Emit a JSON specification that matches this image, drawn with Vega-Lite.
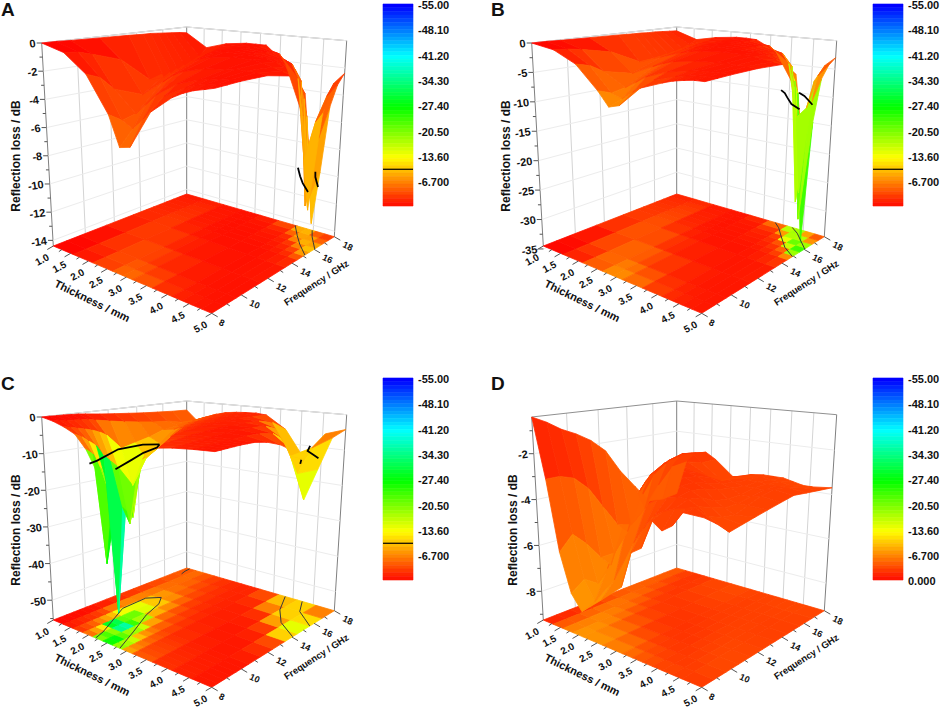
{"$schema":"https://vega.github.io/schema/vega-lite/v6.json","padding":0,"background":"white","config":{"view":{"stroke":null},"text":{"font":"Liberation Sans","fontWeight":"bold","fontSize":11,"color":"#111"}},
"data":{"values":[
{"p":"A","letter":1},{"p":"B","letter":1},{"p":"C","letter":1},{"p":"D","letter":1},{"p":"D","zero":"0.000"},{"p":"A","b":-10},{"p":"B","b":-10},{"p":"C","b":-10},
{"p":"A","zv":0},{"p":"A","zv":-2},{"p":"A","zv":-4},{"p":"A","zv":-6},{"p":"A","zv":-8},{"p":"A","zv":-10},{"p":"A","zv":-12},{"p":"A","zv":-14},{"p":"A","zv":-1,"m":1},{"p":"A","zv":-3,"m":1},{"p":"A","zv":-5,"m":1},{"p":"A","zv":-7,"m":1},{"p":"A","zv":-9,"m":1},{"p":"A","zv":-11,"m":1},{"p":"A","zv":-13,"m":1},
{"p":"B","zv":0},{"p":"B","zv":-5},{"p":"B","zv":-10},{"p":"B","zv":-15},{"p":"B","zv":-20},{"p":"B","zv":-25},{"p":"B","zv":-30},{"p":"B","zv":-35},{"p":"B","zv":-2.5,"m":1},{"p":"B","zv":-7.5,"m":1},{"p":"B","zv":-12.5,"m":1},{"p":"B","zv":-17.5,"m":1},{"p":"B","zv":-22.5,"m":1},{"p":"B","zv":-27.5,"m":1},{"p":"B","zv":-32.5,"m":1},
{"p":"C","zv":0},{"p":"C","zv":-10},{"p":"C","zv":-20},{"p":"C","zv":-30},{"p":"C","zv":-40},{"p":"C","zv":-50},{"p":"C","zv":-5,"m":1},{"p":"C","zv":-15,"m":1},{"p":"C","zv":-25,"m":1},{"p":"C","zv":-35,"m":1},{"p":"C","zv":-45,"m":1},{"p":"C","zv":-55,"m":1},
{"p":"D","zv":-2},{"p":"D","zv":-4},{"p":"D","zv":-6},{"p":"D","zv":-8},{"p":"D","zv":-1,"m":1},{"p":"D","zv":-3,"m":1},{"p":"D","zv":-5,"m":1},{"p":"D","zv":-7,"m":1},{"p":"D","zv":-9,"m":1},
{"p":"A","c":"A1","t":3.94,"f":18},{"p":"A","c":"A1","t":4.1,"f":17.6},{"p":"A","c":"A1","t":4.3,"f":17.1},{"p":"A","c":"A1","t":4.6,"f":16.4},{"p":"A","c":"A1","t":5,"f":15.6},{"p":"A","c":"A2","t":4.4,"f":18},{"p":"A","c":"A2","t":4.6,"f":17.4},{"p":"A","c":"A2","t":4.8,"f":16.9},{"p":"A","c":"A2","t":5,"f":16.4},
{"p":"B","c":"B1","t":3.67,"f":18},{"p":"B","c":"B1","t":3.9,"f":17.6},{"p":"B","c":"B1","t":4.2,"f":16.9},{"p":"B","c":"B1","t":4.6,"f":16},{"p":"B","c":"B1","t":5,"f":15.4},{"p":"B","c":"B2","t":4.13,"f":18},{"p":"B","c":"B2","t":4.4,"f":17.6},{"p":"B","c":"B2","t":4.7,"f":17},{"p":"B","c":"B2","t":5,"f":16.4},
{"p":"C","c":"C1","t":2.07,"f":8},{"p":"C","c":"C1","t":1.99,"f":8.8},{"p":"C","c":"C1","t":1.52,"f":11.7},{"p":"C","c":"C1","t":1.5,"f":13.5},{"p":"C","c":"C1","t":1.7,"f":14.1},{"p":"C","c":"C2","t":2.68,"f":8},{"p":"C","c":"C2","t":2.38,"f":10},{"p":"C","c":"C2","t":2.06,"f":11.9},{"p":"C","c":"C2","t":1.88,"f":13.4},{"p":"C","c":"C2","t":1.7,"f":14.1},
{"p":"C","c":"C3","t":1.15,"f":17.2,"sf":0},{"p":"C","c":"C3","t":1.1,"f":17.6,"sf":0},{"p":"C","c":"C3","t":1.08,"f":18,"sf":0},{"p":"C","c":"C4","t":3.67,"f":18,"sf":0},{"p":"C","c":"C4","t":4,"f":16.6,"sf":0},{"p":"C","c":"C4","t":4.4,"f":15.5,"sf":0},{"p":"C","c":"C4","t":5,"f":14.6,"sf":0},{"p":"C","c":"C5","t":5,"f":14.6,"fl":0},{"p":"C","c":"C5","t":4.8,"f":15.3,"fl":0},{"p":"C","c":"C6","t":4.13,"f":18},{"p":"C","c":"C6","t":4.4,"f":17},{"p":"C","c":"C6","t":4.7,"f":16.5},{"p":"C","c":"C6","t":5,"f":16},
{"p":"A","t":1,"f":8,"z":0},{"p":"A","t":1.5,"f":8,"z":-0.4},{"p":"A","t":2,"f":8,"z":-1.6},{"p":"A","t":2.5,"f":8,"z":-4},{"p":"A","t":2.75,"f":8,"z":-6},{"p":"A","t":3,"f":8,"z":-5.8},{"p":"A","t":3.5,"f":8,"z":-3.2},{"p":"A","t":4,"f":8,"z":-2},{"p":"A","t":4.25,"f":8,"z":-1.6},{"p":"A","t":4.5,"f":8,"z":-1.3},{"p":"A","t":4.75,"f":8,"z":-1.1},{"p":"A","t":5,"f":8,"z":-0.9},
{"p":"A","t":1,"f":9,"z":0},{"p":"A","t":1.5,"f":9,"z":-0.5},{"p":"A","t":2,"f":9,"z":-2},{"p":"A","t":2.5,"f":9,"z":-4.6},{"p":"A","t":2.75,"f":9,"z":-5},{"p":"A","t":3,"f":9,"z":-4.2},{"p":"A","t":3.5,"f":9,"z":-2.4},{"p":"A","t":4,"f":9,"z":-1.6},{"p":"A","t":4.25,"f":9,"z":-1.3},{"p":"A","t":4.5,"f":9,"z":-1.1},{"p":"A","t":4.75,"f":9,"z":-1},{"p":"A","t":5,"f":9,"z":-0.9},
{"p":"A","t":1,"f":10,"z":-0.05},{"p":"A","t":1.5,"f":10,"z":-0.8},{"p":"A","t":2,"f":10,"z":-3},{"p":"A","t":2.5,"f":10,"z":-4.4},{"p":"A","t":2.75,"f":10,"z":-3.6},{"p":"A","t":3,"f":10,"z":-2.8},{"p":"A","t":3.5,"f":10,"z":-1.8},{"p":"A","t":4,"f":10,"z":-1.3},{"p":"A","t":4.25,"f":10,"z":-1.1},{"p":"A","t":4.5,"f":10,"z":-1},{"p":"A","t":4.75,"f":10,"z":-0.9},{"p":"A","t":5,"f":10,"z":-0.9},
{"p":"A","t":1,"f":12,"z":-0.1},{"p":"A","t":1.5,"f":12,"z":-1.5},{"p":"A","t":2,"f":12,"z":-3.8},{"p":"A","t":2.5,"f":12,"z":-2.6},{"p":"A","t":2.75,"f":12,"z":-2},{"p":"A","t":3,"f":12,"z":-1.6},{"p":"A","t":3.5,"f":12,"z":-1.2},{"p":"A","t":4,"f":12,"z":-1},{"p":"A","t":4.25,"f":12,"z":-0.9},{"p":"A","t":4.5,"f":12,"z":-0.9},{"p":"A","t":4.75,"f":12,"z":-0.9},{"p":"A","t":5,"f":12,"z":-1},
{"p":"A","t":1,"f":14,"z":-0.15},{"p":"A","t":1.5,"f":14,"z":-3.4},{"p":"A","t":2,"f":14,"z":-2.4},{"p":"A","t":2.5,"f":14,"z":-1.5},{"p":"A","t":2.75,"f":14,"z":-1.2},{"p":"A","t":3,"f":14,"z":-1},{"p":"A","t":3.5,"f":14,"z":-0.8},{"p":"A","t":4,"f":14,"z":-0.8},{"p":"A","t":4.25,"f":14,"z":-0.9},{"p":"A","t":4.5,"f":14,"z":-1.1},{"p":"A","t":4.75,"f":14,"z":-1.3},{"p":"A","t":5,"f":14,"z":-1.5},
{"p":"A","t":1,"f":15,"z":-0.2},{"p":"A","t":1.5,"f":15,"z":-3.4},{"p":"A","t":2,"f":15,"z":-1.9},{"p":"A","t":2.5,"f":15,"z":-1.2},{"p":"A","t":2.75,"f":15,"z":-1},{"p":"A","t":3,"f":15,"z":-0.8},{"p":"A","t":3.5,"f":15,"z":-0.8},{"p":"A","t":4,"f":15,"z":-0.9},{"p":"A","t":4.25,"f":15,"z":-1.1},{"p":"A","t":4.5,"f":15,"z":-1.4},{"p":"A","t":4.75,"f":15,"z":-1.9},{"p":"A","t":5,"f":15,"z":-3},
{"p":"A","t":1,"f":15.5,"z":-0.2},{"p":"A","t":1.5,"f":15.5,"z":-3.2},{"p":"A","t":2,"f":15.5,"z":-1.7},{"p":"A","t":2.5,"f":15.5,"z":-1.1},{"p":"A","t":2.75,"f":15.5,"z":-0.9},{"p":"A","t":3,"f":15.5,"z":-0.8},{"p":"A","t":3.5,"f":15.5,"z":-0.9},{"p":"A","t":4,"f":15.5,"z":-1},{"p":"A","t":4.25,"f":15.5,"z":-1.3},{"p":"A","t":4.5,"f":15.5,"z":-1.8},{"p":"A","t":4.75,"f":15.5,"z":-3},{"p":"A","t":5,"f":15.5,"z":-7},
{"p":"A","t":1,"f":16,"z":-0.25},{"p":"A","t":1.5,"f":16,"z":-3},{"p":"A","t":2,"f":16,"z":-1.6},{"p":"A","t":2.5,"f":16,"z":-1},{"p":"A","t":2.75,"f":16,"z":-0.9},{"p":"A","t":3,"f":16,"z":-0.8},{"p":"A","t":3.5,"f":16,"z":-0.9},{"p":"A","t":4,"f":16,"z":-1.2},{"p":"A","t":4.25,"f":16,"z":-1.6},{"p":"A","t":4.5,"f":16,"z":-2.5},{"p":"A","t":4.75,"f":16,"z":-5},{"p":"A","t":5,"f":16,"z":-12.4},
{"p":"A","t":1,"f":16.5,"z":-0.3},{"p":"A","t":1.5,"f":16.5,"z":-2.8},{"p":"A","t":2,"f":16.5,"z":-1.5},{"p":"A","t":2.5,"f":16.5,"z":-1},{"p":"A","t":2.75,"f":16.5,"z":-0.9},{"p":"A","t":3,"f":16.5,"z":-0.8},{"p":"A","t":3.5,"f":16.5,"z":-1},{"p":"A","t":4,"f":16.5,"z":-1.4},{"p":"A","t":4.25,"f":16.5,"z":-2},{"p":"A","t":4.5,"f":16.5,"z":-4},{"p":"A","t":4.75,"f":16.5,"z":-11},{"p":"A","t":5,"f":16.5,"z":-9},
{"p":"A","t":1,"f":17,"z":-0.35},{"p":"A","t":1.5,"f":17,"z":-2.5},{"p":"A","t":2,"f":17,"z":-1.4},{"p":"A","t":2.5,"f":17,"z":-1},{"p":"A","t":2.75,"f":17,"z":-0.9},{"p":"A","t":3,"f":17,"z":-0.8},{"p":"A","t":3.5,"f":17,"z":-1.1},{"p":"A","t":4,"f":17,"z":-1.8},{"p":"A","t":4.25,"f":17,"z":-3},{"p":"A","t":4.5,"f":17,"z":-12},{"p":"A","t":4.75,"f":17,"z":-7},{"p":"A","t":5,"f":17,"z":-4.5},
{"p":"A","t":1,"f":17.5,"z":-0.4},{"p":"A","t":1.5,"f":17.5,"z":-2.2},{"p":"A","t":2,"f":17.5,"z":-1.3},{"p":"A","t":2.5,"f":17.5,"z":-0.95},{"p":"A","t":2.75,"f":17.5,"z":-0.9},{"p":"A","t":3,"f":17.5,"z":-0.9},{"p":"A","t":3.5,"f":17.5,"z":-1.3},{"p":"A","t":4,"f":17.5,"z":-3},{"p":"A","t":4.25,"f":17.5,"z":-9},{"p":"A","t":4.5,"f":17.5,"z":-6},{"p":"A","t":4.75,"f":17.5,"z":-4},{"p":"A","t":5,"f":17.5,"z":-3.1},
{"p":"A","t":1,"f":18,"z":-0.5},{"p":"A","t":1.5,"f":18,"z":-1.6},{"p":"A","t":2,"f":18,"z":-1.1},{"p":"A","t":2.5,"f":18,"z":-0.9},{"p":"A","t":2.75,"f":18,"z":-0.9},{"p":"A","t":3,"f":18,"z":-0.9},{"p":"A","t":3.5,"f":18,"z":-2.2},{"p":"A","t":4,"f":18,"z":-6},{"p":"A","t":4.25,"f":18,"z":-13},{"p":"A","t":4.5,"f":18,"z":-5.5},{"p":"A","t":4.75,"f":18,"z":-3.2},{"p":"A","t":5,"f":18,"z":-2.4},
{"p":"B","t":1,"f":8,"z":0},{"p":"B","t":1.5,"f":8,"z":-0.5},{"p":"B","t":2,"f":8,"z":-2.2},{"p":"B","t":2.5,"f":8,"z":-5.8},{"p":"B","t":2.75,"f":8,"z":-8},{"p":"B","t":3,"f":8,"z":-7.4},{"p":"B","t":3.5,"f":8,"z":-4},{"p":"B","t":4,"f":8,"z":-2.6},{"p":"B","t":4.25,"f":8,"z":-2},{"p":"B","t":4.5,"f":8,"z":-1.6},{"p":"B","t":4.75,"f":8,"z":-1.3},{"p":"B","t":5,"f":8,"z":-1.2},
{"p":"B","t":1,"f":9,"z":0},{"p":"B","t":1.5,"f":9,"z":-0.7},{"p":"B","t":2,"f":9,"z":-2.8},{"p":"B","t":2.5,"f":9,"z":-6.6},{"p":"B","t":2.75,"f":9,"z":-7.2},{"p":"B","t":3,"f":9,"z":-5.8},{"p":"B","t":3.5,"f":9,"z":-3.2},{"p":"B","t":4,"f":9,"z":-2.1},{"p":"B","t":4.25,"f":9,"z":-1.7},{"p":"B","t":4.5,"f":9,"z":-1.4},{"p":"B","t":4.75,"f":9,"z":-1.3},{"p":"B","t":5,"f":9,"z":-1.2},
{"p":"B","t":1,"f":10,"z":-0.1},{"p":"B","t":1.5,"f":10,"z":-1.1},{"p":"B","t":2,"f":10,"z":-4.2},{"p":"B","t":2.5,"f":10,"z":-6.2},{"p":"B","t":2.75,"f":10,"z":-5},{"p":"B","t":3,"f":10,"z":-3.8},{"p":"B","t":3.5,"f":10,"z":-2.4},{"p":"B","t":4,"f":10,"z":-1.7},{"p":"B","t":4.25,"f":10,"z":-1.4},{"p":"B","t":4.5,"f":10,"z":-1.3},{"p":"B","t":4.75,"f":10,"z":-1.2},{"p":"B","t":5,"f":10,"z":-1.2},
{"p":"B","t":1,"f":12,"z":-0.2},{"p":"B","t":1.5,"f":12,"z":-2.2},{"p":"B","t":2,"f":12,"z":-5.4},{"p":"B","t":2.5,"f":12,"z":-3.6},{"p":"B","t":2.75,"f":12,"z":-2.8},{"p":"B","t":3,"f":12,"z":-2.2},{"p":"B","t":3.5,"f":12,"z":-1.6},{"p":"B","t":4,"f":12,"z":-1.3},{"p":"B","t":4.25,"f":12,"z":-1.2},{"p":"B","t":4.5,"f":12,"z":-1.2},{"p":"B","t":4.75,"f":12,"z":-1.2},{"p":"B","t":5,"f":12,"z":-1.3},
{"p":"B","t":1,"f":14,"z":-0.3},{"p":"B","t":1.5,"f":14,"z":-4.8},{"p":"B","t":2,"f":14,"z":-3.4},{"p":"B","t":2.5,"f":14,"z":-2.1},{"p":"B","t":2.75,"f":14,"z":-1.6},{"p":"B","t":3,"f":14,"z":-1.3},{"p":"B","t":3.5,"f":14,"z":-1},{"p":"B","t":4,"f":14,"z":-1},{"p":"B","t":4.25,"f":14,"z":-1.1},{"p":"B","t":4.5,"f":14,"z":-1.3},{"p":"B","t":4.75,"f":14,"z":-1.5},{"p":"B","t":5,"f":14,"z":-1.7},
{"p":"B","t":1,"f":15,"z":-0.4},{"p":"B","t":1.5,"f":15,"z":-4.6},{"p":"B","t":2,"f":15,"z":-2.7},{"p":"B","t":2.5,"f":15,"z":-1.6},{"p":"B","t":2.75,"f":15,"z":-1.3},{"p":"B","t":3,"f":15,"z":-1},{"p":"B","t":3.5,"f":15,"z":-1},{"p":"B","t":4,"f":15,"z":-1.1},{"p":"B","t":4.25,"f":15,"z":-1.4},{"p":"B","t":4.5,"f":15,"z":-1.9},{"p":"B","t":4.75,"f":15,"z":-2.6},{"p":"B","t":5,"f":15,"z":-4},
{"p":"B","t":1,"f":15.5,"z":-0.4},{"p":"B","t":1.5,"f":15.5,"z":-4.4},{"p":"B","t":2,"f":15.5,"z":-2.4},{"p":"B","t":2.5,"f":15.5,"z":-1.4},{"p":"B","t":2.75,"f":15.5,"z":-1.2},{"p":"B","t":3,"f":15.5,"z":-1},{"p":"B","t":3.5,"f":15.5,"z":-1.1},{"p":"B","t":4,"f":15.5,"z":-1.3},{"p":"B","t":4.25,"f":15.5,"z":-1.7},{"p":"B","t":4.5,"f":15.5,"z":-2.5},{"p":"B","t":4.75,"f":15.5,"z":-4.5},{"p":"B","t":5,"f":15.5,"z":-12},
{"p":"B","t":1,"f":16,"z":-0.5},{"p":"B","t":1.5,"f":16,"z":-4.2},{"p":"B","t":2,"f":16,"z":-2.2},{"p":"B","t":2.5,"f":16,"z":-1.3},{"p":"B","t":2.75,"f":16,"z":-1.1},{"p":"B","t":3,"f":16,"z":-1},{"p":"B","t":3.5,"f":16,"z":-1.2},{"p":"B","t":4,"f":16,"z":-1.6},{"p":"B","t":4.25,"f":16,"z":-2.2},{"p":"B","t":4.5,"f":16,"z":-3.6},{"p":"B","t":4.75,"f":16,"z":-8},{"p":"B","t":5,"f":16,"z":-33},
{"p":"B","t":1,"f":16.5,"z":-0.5},{"p":"B","t":1.5,"f":16.5,"z":-3.9},{"p":"B","t":2,"f":16.5,"z":-2},{"p":"B","t":2.5,"f":16.5,"z":-1.3},{"p":"B","t":2.75,"f":16.5,"z":-1.1},{"p":"B","t":3,"f":16.5,"z":-1},{"p":"B","t":3.5,"f":16.5,"z":-1.3},{"p":"B","t":4,"f":16.5,"z":-1.9},{"p":"B","t":4.25,"f":16.5,"z":-3},{"p":"B","t":4.5,"f":16.5,"z":-6.5},{"p":"B","t":4.75,"f":16.5,"z":-30},{"p":"B","t":5,"f":16.5,"z":-13},
{"p":"B","t":1,"f":17,"z":-0.6},{"p":"B","t":1.5,"f":17,"z":-3.5},{"p":"B","t":2,"f":17,"z":-1.8},{"p":"B","t":2.5,"f":17,"z":-1.2},{"p":"B","t":2.75,"f":17,"z":-1.1},{"p":"B","t":3,"f":17,"z":-1},{"p":"B","t":3.5,"f":17,"z":-1.4},{"p":"B","t":4,"f":17,"z":-2.4},{"p":"B","t":4.25,"f":17,"z":-4.5},{"p":"B","t":4.5,"f":17,"z":-28},{"p":"B","t":4.75,"f":17,"z":-11},{"p":"B","t":5,"f":17,"z":-6},
{"p":"B","t":1,"f":17.5,"z":-0.7},{"p":"B","t":1.5,"f":17.5,"z":-3},{"p":"B","t":2,"f":17.5,"z":-1.7},{"p":"B","t":2.5,"f":17.5,"z":-1.2},{"p":"B","t":2.75,"f":17.5,"z":-1.1},{"p":"B","t":3,"f":17.5,"z":-1.1},{"p":"B","t":3.5,"f":17.5,"z":-1.7},{"p":"B","t":4,"f":17.5,"z":-4.5},{"p":"B","t":4.25,"f":17.5,"z":-14},{"p":"B","t":4.5,"f":17.5,"z":-12},{"p":"B","t":4.75,"f":17.5,"z":-6},{"p":"B","t":5,"f":17.5,"z":-4},
{"p":"B","t":1,"f":18,"z":-0.8},{"p":"B","t":1.5,"f":18,"z":-2.2},{"p":"B","t":2,"f":18,"z":-1.4},{"p":"B","t":2.5,"f":18,"z":-1},{"p":"B","t":2.75,"f":18,"z":-1},{"p":"B","t":3,"f":18,"z":-1.1},{"p":"B","t":3.5,"f":18,"z":-3},{"p":"B","t":4,"f":18,"z":-9},{"p":"B","t":4.25,"f":18,"z":-28},{"p":"B","t":4.5,"f":18,"z":-7.5},{"p":"B","t":4.75,"f":18,"z":-4.5},{"p":"B","t":5,"f":18,"z":-3},
{"p":"C","t":1,"f":8,"z":0},{"p":"C","t":1.25,"f":8,"z":-0.6},{"p":"C","t":1.5,"f":8,"z":-1.6},{"p":"C","t":1.75,"f":8,"z":-3},{"p":"C","t":2,"f":8,"z":-6.5},{"p":"C","t":2.25,"f":8,"z":-12},{"p":"C","t":2.5,"f":8,"z":-27},{"p":"C","t":2.75,"f":8,"z":-11},{"p":"C","t":3,"f":8,"z":-6},{"p":"C","t":3.5,"f":8,"z":-3},{"p":"C","t":4,"f":8,"z":-2},{"p":"C","t":4.5,"f":8,"z":-1.4},{"p":"C","t":5,"f":8,"z":-1},
{"p":"C","t":1,"f":8.5,"z":0},{"p":"C","t":1.25,"f":8.5,"z":-0.7},{"p":"C","t":1.5,"f":8.5,"z":-2},{"p":"C","t":1.75,"f":8.5,"z":-4},{"p":"C","t":2,"f":8.5,"z":-8},{"p":"C","t":2.25,"f":8.5,"z":-36},{"p":"C","t":2.5,"f":8.5,"z":-20},{"p":"C","t":2.75,"f":8.5,"z":-9},{"p":"C","t":3,"f":8.5,"z":-5},{"p":"C","t":3.5,"f":8.5,"z":-2.8},{"p":"C","t":4,"f":8.5,"z":-1.9},{"p":"C","t":4.5,"f":8.5,"z":-1.4},{"p":"C","t":5,"f":8.5,"z":-1},
{"p":"C","t":1,"f":9,"z":-0.1},{"p":"C","t":1.25,"f":9,"z":-0.9},{"p":"C","t":1.5,"f":9,"z":-2.5},{"p":"C","t":1.75,"f":9,"z":-5.5},{"p":"C","t":2,"f":9,"z":-12},{"p":"C","t":2.25,"f":9,"z":-20},{"p":"C","t":2.5,"f":9,"z":-26},{"p":"C","t":2.75,"f":9,"z":-8},{"p":"C","t":3,"f":9,"z":-4.4},{"p":"C","t":3.5,"f":9,"z":-2.6},{"p":"C","t":4,"f":9,"z":-1.8},{"p":"C","t":4.5,"f":9,"z":-1.4},{"p":"C","t":5,"f":9,"z":-1},
{"p":"C","t":1,"f":9.5,"z":-0.1},{"p":"C","t":1.25,"f":9.5,"z":-1},{"p":"C","t":1.5,"f":9.5,"z":-3},{"p":"C","t":1.75,"f":9.5,"z":-7},{"p":"C","t":2,"f":9.5,"z":-18},{"p":"C","t":2.25,"f":9.5,"z":-24},{"p":"C","t":2.5,"f":9.5,"z":-14},{"p":"C","t":2.75,"f":9.5,"z":-6.5},{"p":"C","t":3,"f":9.5,"z":-4},{"p":"C","t":3.5,"f":9.5,"z":-2.4},{"p":"C","t":4,"f":9.5,"z":-1.7},{"p":"C","t":4.5,"f":9.5,"z":-1.3},{"p":"C","t":5,"f":9.5,"z":-1},
{"p":"C","t":1,"f":10,"z":-0.2},{"p":"C","t":1.25,"f":10,"z":-1.2},{"p":"C","t":1.5,"f":10,"z":-3.6},{"p":"C","t":1.75,"f":10,"z":-10},{"p":"C","t":2,"f":10,"z":-52},{"p":"C","t":2.25,"f":10,"z":-22},{"p":"C","t":2.5,"f":10,"z":-10},{"p":"C","t":2.75,"f":10,"z":-5.6},{"p":"C","t":3,"f":10,"z":-3.6},{"p":"C","t":3.5,"f":10,"z":-2.2},{"p":"C","t":4,"f":10,"z":-1.6},{"p":"C","t":4.5,"f":10,"z":-1.3},{"p":"C","t":5,"f":10,"z":-1},
{"p":"C","t":1,"f":10.5,"z":-0.3},{"p":"C","t":1.25,"f":10.5,"z":-1.4},{"p":"C","t":1.5,"f":10.5,"z":-4.4},{"p":"C","t":1.75,"f":10.5,"z":-12},{"p":"C","t":2,"f":10.5,"z":-24},{"p":"C","t":2.25,"f":10.5,"z":-26},{"p":"C","t":2.5,"f":10.5,"z":-8},{"p":"C","t":2.75,"f":10.5,"z":-4.8},{"p":"C","t":3,"f":10.5,"z":-3.2},{"p":"C","t":3.5,"f":10.5,"z":-2},{"p":"C","t":4,"f":10.5,"z":-1.5},{"p":"C","t":4.5,"f":10.5,"z":-1.3},{"p":"C","t":5,"f":10.5,"z":-1.1},
{"p":"C","t":1,"f":11,"z":-0.5},{"p":"C","t":1.25,"f":11,"z":-1.8},{"p":"C","t":1.5,"f":11,"z":-5.6},{"p":"C","t":1.75,"f":11,"z":-14},{"p":"C","t":2,"f":11,"z":-29},{"p":"C","t":2.25,"f":11,"z":-12},{"p":"C","t":2.5,"f":11,"z":-6.5},{"p":"C","t":2.75,"f":11,"z":-4.2},{"p":"C","t":3,"f":11,"z":-2.8},{"p":"C","t":3.5,"f":11,"z":-1.8},{"p":"C","t":4,"f":11,"z":-1.4},{"p":"C","t":4.5,"f":11,"z":-1.2},{"p":"C","t":5,"f":11,"z":-1.2},
{"p":"C","t":1,"f":12,"z":-1},{"p":"C","t":1.25,"f":12,"z":-2.6},{"p":"C","t":1.5,"f":12,"z":-10},{"p":"C","t":1.75,"f":12,"z":-20},{"p":"C","t":2,"f":12,"z":-12},{"p":"C","t":2.25,"f":12,"z":-7},{"p":"C","t":2.5,"f":12,"z":-4.6},{"p":"C","t":2.75,"f":12,"z":-3.2},{"p":"C","t":3,"f":12,"z":-2.4},{"p":"C","t":3.5,"f":12,"z":-1.6},{"p":"C","t":4,"f":12,"z":-1.2},{"p":"C","t":4.5,"f":12,"z":-1.2},{"p":"C","t":5,"f":12,"z":-2},
{"p":"C","t":1,"f":13,"z":-1.4},{"p":"C","t":1.25,"f":13,"z":-3.4},{"p":"C","t":1.5,"f":13,"z":-9},{"p":"C","t":1.75,"f":13,"z":-13},{"p":"C","t":2,"f":13,"z":-10},{"p":"C","t":2.25,"f":13,"z":-5.5},{"p":"C","t":2.5,"f":13,"z":-3.6},{"p":"C","t":2.75,"f":13,"z":-2.6},{"p":"C","t":3,"f":13,"z":-2},{"p":"C","t":3.5,"f":13,"z":-1.4},{"p":"C","t":4,"f":13,"z":-1.2},{"p":"C","t":4.5,"f":13,"z":-1.4},{"p":"C","t":5,"f":13,"z":-3.5},
{"p":"C","t":1,"f":14,"z":-1.8},{"p":"C","t":1.25,"f":14,"z":-4},{"p":"C","t":1.5,"f":14,"z":-8},{"p":"C","t":1.75,"f":14,"z":-9.5},{"p":"C","t":2,"f":14,"z":-7},{"p":"C","t":2.25,"f":14,"z":-4},{"p":"C","t":2.5,"f":14,"z":-2.8},{"p":"C","t":2.75,"f":14,"z":-2.2},{"p":"C","t":3,"f":14,"z":-1.8},{"p":"C","t":3.5,"f":14,"z":-1.4},{"p":"C","t":4,"f":14,"z":-1.3},{"p":"C","t":4.5,"f":14,"z":-2.2},{"p":"C","t":5,"f":14,"z":-6},
{"p":"C","t":1,"f":15,"z":-2.2},{"p":"C","t":1.25,"f":15,"z":-4.6},{"p":"C","t":1.5,"f":15,"z":-6.5},{"p":"C","t":1.75,"f":15,"z":-6},{"p":"C","t":2,"f":15,"z":-4.6},{"p":"C","t":2.25,"f":15,"z":-3.2},{"p":"C","t":2.5,"f":15,"z":-2.4},{"p":"C","t":2.75,"f":15,"z":-2},{"p":"C","t":3,"f":15,"z":-1.7},{"p":"C","t":3.5,"f":15,"z":-1.5},{"p":"C","t":4,"f":15,"z":-1.8},{"p":"C","t":4.5,"f":15,"z":-5},{"p":"C","t":5,"f":15,"z":-20},
{"p":"C","t":1,"f":16,"z":-2.5},{"p":"C","t":1.25,"f":16,"z":-5},{"p":"C","t":1.5,"f":16,"z":-6},{"p":"C","t":1.75,"f":16,"z":-4.6},{"p":"C","t":2,"f":16,"z":-3.6},{"p":"C","t":2.25,"f":16,"z":-2.8},{"p":"C","t":2.5,"f":16,"z":-2.2},{"p":"C","t":2.75,"f":16,"z":-1.9},{"p":"C","t":3,"f":16,"z":-1.7},{"p":"C","t":3.5,"f":16,"z":-1.8},{"p":"C","t":4,"f":16,"z":-3.5},{"p":"C","t":4.5,"f":16,"z":-15},{"p":"C","t":5,"f":16,"z":-13},
{"p":"C","t":1,"f":17,"z":-2.8},{"p":"C","t":1.25,"f":17,"z":-6},{"p":"C","t":1.5,"f":17,"z":-5.2},{"p":"C","t":1.75,"f":17,"z":-4},{"p":"C","t":2,"f":17,"z":-3},{"p":"C","t":2.25,"f":17,"z":-2.5},{"p":"C","t":2.5,"f":17,"z":-2},{"p":"C","t":2.75,"f":17,"z":-1.9},{"p":"C","t":3,"f":17,"z":-1.9},{"p":"C","t":3.5,"f":17,"z":-3},{"p":"C","t":4,"f":17,"z":-12},{"p":"C","t":4.5,"f":17,"z":-9},{"p":"C","t":5,"f":17,"z":-5.5},
{"p":"C","t":1,"f":18,"z":-3},{"p":"C","t":1.25,"f":18,"z":-6},{"p":"C","t":1.5,"f":18,"z":-4.6},{"p":"C","t":1.75,"f":18,"z":-3.4},{"p":"C","t":2,"f":18,"z":-2.6},{"p":"C","t":2.25,"f":18,"z":-2.2},{"p":"C","t":2.5,"f":18,"z":-2},{"p":"C","t":2.75,"f":18,"z":-1.9},{"p":"C","t":3,"f":18,"z":-2.2},{"p":"C","t":3.5,"f":18,"z":-6},{"p":"C","t":4,"f":18,"z":-14},{"p":"C","t":4.5,"f":18,"z":-6},{"p":"C","t":5,"f":18,"z":-4.2},
{"p":"D","t":1,"f":8,"z":-0.4},{"p":"D","t":1.25,"f":8,"z":-3},{"p":"D","t":1.5,"f":8,"z":-6},{"p":"D","t":1.75,"f":8,"z":-7.6},{"p":"D","t":2,"f":8,"z":-8.2},{"p":"D","t":2.5,"f":8,"z":-7.4},{"p":"D","t":3,"f":8,"z":-6.6},{"p":"D","t":3.25,"f":8,"z":-5.1},{"p":"D","t":3.5,"f":8,"z":-4.8},{"p":"D","t":3.75,"f":8,"z":-3.6},{"p":"D","t":4,"f":8,"z":-3.9},{"p":"D","t":4.25,"f":8,"z":-3.6},{"p":"D","t":4.5,"f":8,"z":-3},{"p":"D","t":5,"f":8,"z":-3},
{"p":"D","t":1,"f":9,"z":-0.7},{"p":"D","t":1.25,"f":9,"z":-3},{"p":"D","t":1.5,"f":9,"z":-5.4},{"p":"D","t":1.75,"f":9,"z":-7.2},{"p":"D","t":2,"f":9,"z":-8},{"p":"D","t":2.5,"f":9,"z":-6.8},{"p":"D","t":3,"f":9,"z":-5},{"p":"D","t":3.25,"f":9,"z":-4.3},{"p":"D","t":3.5,"f":9,"z":-3.7},{"p":"D","t":3.75,"f":9,"z":-3.4},{"p":"D","t":4,"f":9,"z":-3.2},{"p":"D","t":4.25,"f":9,"z":-3.1},{"p":"D","t":4.5,"f":9,"z":-3},{"p":"D","t":5,"f":9,"z":-3.4},
{"p":"D","t":1,"f":10,"z":-1.1},{"p":"D","t":1.25,"f":10,"z":-3.2},{"p":"D","t":1.5,"f":10,"z":-6},{"p":"D","t":1.75,"f":10,"z":-7.6},{"p":"D","t":2,"f":10,"z":-6.8},{"p":"D","t":2.5,"f":10,"z":-4.8},{"p":"D","t":3,"f":10,"z":-3.6},{"p":"D","t":3.25,"f":10,"z":-3.3},{"p":"D","t":3.5,"f":10,"z":-3.1},{"p":"D","t":3.75,"f":10,"z":-3},{"p":"D","t":4,"f":10,"z":-3},{"p":"D","t":4.25,"f":10,"z":-3.2},{"p":"D","t":4.5,"f":10,"z":-3.5},{"p":"D","t":5,"f":10,"z":-3.9},
{"p":"D","t":1,"f":11,"z":-1.4},{"p":"D","t":1.25,"f":11,"z":-3.8},{"p":"D","t":1.5,"f":11,"z":-6.8},{"p":"D","t":1.75,"f":11,"z":-7},{"p":"D","t":2,"f":11,"z":-5.4},{"p":"D","t":2.5,"f":11,"z":-3.6},{"p":"D","t":3,"f":11,"z":-3},{"p":"D","t":3.25,"f":11,"z":-2.9},{"p":"D","t":3.5,"f":11,"z":-2.8},{"p":"D","t":3.75,"f":11,"z":-2.9},{"p":"D","t":4,"f":11,"z":-3.1},{"p":"D","t":4.25,"f":11,"z":-3.4},{"p":"D","t":4.5,"f":11,"z":-3.7},{"p":"D","t":5,"f":11,"z":-3.8},
{"p":"D","t":1,"f":12,"z":-1.8},{"p":"D","t":1.25,"f":12,"z":-4.8},{"p":"D","t":1.5,"f":12,"z":-6.8},{"p":"D","t":1.75,"f":12,"z":-5.4},{"p":"D","t":2,"f":12,"z":-4.2},{"p":"D","t":2.5,"f":12,"z":-3},{"p":"D","t":3,"f":12,"z":-2.7},{"p":"D","t":3.25,"f":12,"z":-2.7},{"p":"D","t":3.5,"f":12,"z":-2.8},{"p":"D","t":3.75,"f":12,"z":-3},{"p":"D","t":4,"f":12,"z":-3.4},{"p":"D","t":4.25,"f":12,"z":-3.6},{"p":"D","t":4.5,"f":12,"z":-3.8},{"p":"D","t":5,"f":12,"z":-3.7},
{"p":"D","t":1,"f":13,"z":-2.4},{"p":"D","t":1.25,"f":13,"z":-5.8},{"p":"D","t":1.5,"f":13,"z":-6},{"p":"D","t":1.75,"f":13,"z":-4.2},{"p":"D","t":2,"f":13,"z":-3.4},{"p":"D","t":2.5,"f":13,"z":-2.7},{"p":"D","t":3,"f":13,"z":-2.7},{"p":"D","t":3.25,"f":13,"z":-2.8},{"p":"D","t":3.5,"f":13,"z":-3},{"p":"D","t":3.75,"f":13,"z":-3.2},{"p":"D","t":4,"f":13,"z":-3.5},{"p":"D","t":4.25,"f":13,"z":-3.6},{"p":"D","t":4.5,"f":13,"z":-3.6},{"p":"D","t":5,"f":13,"z":-3.6},
{"p":"D","t":1,"f":14,"z":-3.5},{"p":"D","t":1.25,"f":14,"z":-6},{"p":"D","t":1.5,"f":14,"z":-4.6},{"p":"D","t":1.75,"f":14,"z":-3.4},{"p":"D","t":2,"f":14,"z":-3},{"p":"D","t":2.5,"f":14,"z":-2.8},{"p":"D","t":3,"f":14,"z":-2.9},{"p":"D","t":3.25,"f":14,"z":-3},{"p":"D","t":3.5,"f":14,"z":-3.2},{"p":"D","t":3.75,"f":14,"z":-3.3},{"p":"D","t":4,"f":14,"z":-3.5},{"p":"D","t":4.25,"f":14,"z":-3.5},{"p":"D","t":4.5,"f":14,"z":-3.4},{"p":"D","t":5,"f":14,"z":-3.5},
{"p":"D","t":1,"f":15,"z":-4.4},{"p":"D","t":1.25,"f":15,"z":-5.4},{"p":"D","t":1.5,"f":15,"z":-3.6},{"p":"D","t":1.75,"f":15,"z":-3},{"p":"D","t":2,"f":15,"z":-2.9},{"p":"D","t":2.5,"f":15,"z":-3.1},{"p":"D","t":3,"f":15,"z":-3.2},{"p":"D","t":3.25,"f":15,"z":-3.2},{"p":"D","t":3.5,"f":15,"z":-3.3},{"p":"D","t":3.75,"f":15,"z":-3.4},{"p":"D","t":4,"f":15,"z":-3.4},{"p":"D","t":4.25,"f":15,"z":-3.4},{"p":"D","t":4.5,"f":15,"z":-3.3},{"p":"D","t":5,"f":15,"z":-3.4},
{"p":"D","t":1,"f":16,"z":-5.3},{"p":"D","t":1.25,"f":16,"z":-4.4},{"p":"D","t":1.5,"f":16,"z":-3.1},{"p":"D","t":1.75,"f":16,"z":-2.8},{"p":"D","t":2,"f":16,"z":-3},{"p":"D","t":2.5,"f":16,"z":-3.5},{"p":"D","t":3,"f":16,"z":-3.4},{"p":"D","t":3.25,"f":16,"z":-3.3},{"p":"D","t":3.5,"f":16,"z":-3.4},{"p":"D","t":3.75,"f":16,"z":-3.4},{"p":"D","t":4,"f":16,"z":-3.4},{"p":"D","t":4.25,"f":16,"z":-3.4},{"p":"D","t":4.5,"f":16,"z":-3.4},{"p":"D","t":5,"f":16,"z":-3.5},
{"p":"D","t":1,"f":17,"z":-5.4},{"p":"D","t":1.25,"f":17,"z":-3.6},{"p":"D","t":1.5,"f":17,"z":-2.9},{"p":"D","t":1.75,"f":17,"z":-2.8},{"p":"D","t":2,"f":17,"z":-3.2},{"p":"D","t":2.5,"f":17,"z":-3.9},{"p":"D","t":3,"f":17,"z":-3.6},{"p":"D","t":3.25,"f":17,"z":-3.4},{"p":"D","t":3.5,"f":17,"z":-3.4},{"p":"D","t":3.75,"f":17,"z":-3.5},{"p":"D","t":4,"f":17,"z":-3.5},{"p":"D","t":4.25,"f":17,"z":-3.6},{"p":"D","t":4.5,"f":17,"z":-3.6},{"p":"D","t":5,"f":17,"z":-3.6},
{"p":"D","t":1,"f":18,"z":-5.3},{"p":"D","t":1.25,"f":18,"z":-3.5},{"p":"D","t":1.5,"f":18,"z":-3},{"p":"D","t":1.75,"f":18,"z":-2.9},{"p":"D","t":2,"f":18,"z":-3.2},{"p":"D","t":2.5,"f":18,"z":-4},{"p":"D","t":3,"f":18,"z":-3.8},{"p":"D","t":3.25,"f":18,"z":-3.6},{"p":"D","t":3.5,"f":18,"z":-3.6},{"p":"D","t":3.75,"f":18,"z":-3.6},{"p":"D","t":4,"f":18,"z":-3.7},{"p":"D","t":4.25,"f":18,"z":-3.8},{"p":"D","t":4.5,"f":18,"z":-3.8},{"p":"D","t":5,"f":18,"z":-3.7},
{"k":"c","t":1,"f":8},{"k":"c","t":1,"f":18},{"k":"c","t":5,"f":18},{"k":"g","t":1,"f":10},{"k":"g","t":1,"f":12},{"k":"g","t":1,"f":14},{"k":"g","t":1,"f":16},{"k":"g","t":1.5,"f":18},{"k":"g","t":2,"f":18},{"k":"g","t":2.5,"f":18},{"k":"g","t":3,"f":18},{"k":"g","t":3.5,"f":18},{"k":"g","t":4,"f":18},{"k":"g","t":4.5,"f":18},
{"tk":1,"t":1},{"tk":1,"t":1.25},{"tk":1,"t":1.5},{"tk":1,"t":1.75},{"tk":1,"t":2},{"tk":1,"t":2.25},{"tk":1,"t":2.5},{"tk":1,"t":2.75},{"tk":1,"t":3},{"tk":1,"t":3.25},{"tk":1,"t":3.5},{"tk":1,"t":3.75},{"tk":1,"t":4},{"tk":1,"t":4.25},{"tk":1,"t":4.5},{"tk":1,"t":4.75},{"tk":1,"t":5},
{"fk":1,"f":8},{"fk":1,"f":9},{"fk":1,"f":10},{"fk":1,"f":11},{"fk":1,"f":12},{"fk":1,"f":13},{"fk":1,"f":14},{"fk":1,"f":15},{"fk":1,"f":16},{"fk":1,"f":17},{"fk":1,"f":18},
{"tl":"T","lab":"Thickness / mm","t":3.04,"f":4.7},{"tl":"F","lab":"Frequency / GHz","t":5.95,"f":13.6},
{"bl":1,"bv":-55,"lab":"-55.00"},{"bl":1,"bv":-48.1,"lab":"-48.10"},{"bl":1,"bv":-41.2,"lab":"-41.20"},{"bl":1,"bv":-34.3,"lab":"-34.30"},{"bl":1,"bv":-27.4,"lab":"-27.40"},{"bl":1,"bv":-20.5,"lab":"-20.50"},{"bl":1,"bv":-13.6,"lab":"-13.60"},{"bl":1,"bv":-6.7,"lab":"-6.700"},
{"v0":-55,"v1":-54},{"v0":-54,"v1":-53},{"v0":-53,"v1":-52},{"v0":-52,"v1":-51},{"v0":-51,"v1":-50},{"v0":-50,"v1":-49},{"v0":-49,"v1":-48},{"v0":-48,"v1":-47},{"v0":-47,"v1":-46},{"v0":-46,"v1":-45},{"v0":-45,"v1":-44},{"v0":-44,"v1":-43},{"v0":-43,"v1":-42},{"v0":-42,"v1":-41},{"v0":-41,"v1":-40},{"v0":-40,"v1":-39},{"v0":-39,"v1":-38},{"v0":-38,"v1":-37},{"v0":-37,"v1":-36},{"v0":-36,"v1":-35},{"v0":-35,"v1":-34},{"v0":-34,"v1":-33},{"v0":-33,"v1":-32},{"v0":-32,"v1":-31},{"v0":-31,"v1":-30},{"v0":-30,"v1":-29},{"v0":-29,"v1":-28},{"v0":-28,"v1":-27},{"v0":-27,"v1":-26},{"v0":-26,"v1":-25},{"v0":-25,"v1":-24},{"v0":-24,"v1":-23},{"v0":-23,"v1":-22},{"v0":-22,"v1":-21},{"v0":-21,"v1":-20},{"v0":-20,"v1":-19},{"v0":-19,"v1":-18},{"v0":-18,"v1":-17},{"v0":-17,"v1":-16},{"v0":-16,"v1":-15},{"v0":-15,"v1":-14},{"v0":-14,"v1":-13},{"v0":-13,"v1":-12},{"v0":-12,"v1":-11},{"v0":-11,"v1":-10},{"v0":-10,"v1":-9},{"v0":-9,"v1":-8},{"v0":-8,"v1":-7},{"v0":-7,"v1":-6},{"v0":-6,"v1":-5},{"v0":-5,"v1":-4},{"v0":-4,"v1":-3},{"v0":-3,"v1":-2},{"v0":-2,"v1":-1},{"v0":-1,"v1":0}
]},
"transform":[{"calculate":"isValid(datum.p)?[datum.p]:['A','B','C','D']","as":"pa"},{"flatten":["pa"],"as":["pp"]},
{"calculate":"isValid(datum.k)?((datum.t-1)/4)/((datum.t-1)/4+(1-(datum.t-1)/4)*1.166):(datum.t-1)/4","as":"u"},
{"calculate":"isValid(datum.k)?((datum.f-8)/10)/((datum.f-8)/10+(1-(datum.f-8)/10)*0.79):(datum.f-8)/10","as":"v"},
{"calculate":"(1-datum.u)*(1-datum.v)*53.3+datum.u*(1-datum.v)*211.7+datum.u*datum.v*334.3+(1-datum.u)*datum.v*186.7","as":"xf"},
{"calculate":"(1-datum.u)*(1-datum.v)*246+datum.u*(1-datum.v)*313.3+datum.u*datum.v*236.7+(1-datum.u)*datum.v*194","as":"yf"},
{"calculate":"(1-datum.u)*(1-datum.v)*203+datum.u*(1-datum.v)*240+datum.u*datum.v*196+(1-datum.u)*datum.v*167","as":"hh"},
{"calculate":"(1-datum.u)*(1-datum.v)*(-11.6)+datum.u*(1-datum.v)*3.3+datum.u*datum.v*12.4","as":"sx"},
{"calculate":"datum.xf+datum.sx","as":"XT"},{"calculate":"datum.yf-datum.hh","as":"YT"},
{"calculate":"1-10/(datum.p=='A'?14.4:datum.p=='B'?34.5:55.4)","as":"qc"},
{"calculate":"datum.xf+datum.qc*datum.sx","as":"XC"},{"calculate":"datum.yf-datum.qc*datum.hh","as":"YC"},
{"calculate":"1-((datum.p=='D'?-0.4:0)-datum.zv)/(datum.p=='A'?14.4:datum.p=='B'?34.5:datum.p=='C'?55.4:8.85)","as":"qz"},
{"calculate":"53.3-11.6*datum.qz","as":"XL"},{"calculate":"246-203*datum.qz","as":"YL"},{"calculate":"186.7","as":"XK"},{"calculate":"194-167*datum.qz","as":"YK"},{"calculate":"334.3+12.4*datum.qz","as":"XR"},{"calculate":"236.7-196*datum.qz","as":"YR"},
{"calculate":"datum.XL-(datum.m?3:5)","as":"XE"},{"calculate":"datum.XL-6","as":"XLab"},{"calculate":"datum.YL+1","as":"YLab"},{"calculate":"''+datum.zv","as":"zlab"},
{"calculate":"((datum.t-1)/4)/((datum.t-1)/4+(1-(datum.t-1)/4)*1.166)","as":"tu"},
{"calculate":"53.3+datum.tu*158.4","as":"tx"},{"calculate":"246+datum.tu*67.3","as":"ty"},{"calculate":"datum.t*2%1==0","as":"tmaj"},
{"calculate":"datum.tx-(datum.tmaj?6:3)","as":"tx2"},{"calculate":"datum.ty+(datum.tmaj?3.5:2)","as":"ty2"},{"calculate":"datum.tx-11","as":"tlx"},{"calculate":"datum.ty+14","as":"tly"},{"calculate":"format(datum.t,'.1f')","as":"tlab"},
{"calculate":"((datum.f-8)/10)/((datum.f-8)/10+(1-(datum.f-8)/10)*0.79)","as":"fv"},
{"calculate":"211.7+datum.fv*122.6","as":"fx"},{"calculate":"313.3-datum.fv*76.6","as":"fy"},{"calculate":"datum.f%2==0","as":"fmaj"},
{"calculate":"datum.fx+(datum.fmaj?6:3)","as":"fx2"},{"calculate":"datum.fy+(datum.fmaj?3.5:2)","as":"fy2"},{"calculate":"datum.fx+(datum.f==8?10:13.5)","as":"flx"},{"calculate":"datum.fy+9.5","as":"fly"},{"calculate":"''+datum.f","as":"flab"},
{"calculate":"383","as":"BX0"},{"calculate":"413","as":"BX1"},{"calculate":"418","as":"BXL"},{"calculate":"4+(datum.v0+55)/55*202","as":"BY0"},{"calculate":"4+(datum.v1+55)/55*202","as":"BY1"},{"calculate":"6+(datum.bv+55)/55*202","as":"BYL"},{"calculate":"4+(datum.b+55)/55*202","as":"BYB"},
{"calculate":"208","as":"BYZ"},{"calculate":"10","as":"LY"},{"calculate":"1","as":"LX"},{"calculate":"156","as":"RY"},{"calculate":"datum.p=='D'?23:16","as":"RX"},{"calculate":"'Reflection loss / dB'","as":"rlab"}],
"facet":{"field":"pp","type":"nominal","header":{"title":null,"labels":false,"labelExpr":"''","labelFontSize":0,"labelPadding":0}},"columns":2,
"spacing":{"column":39,"row":34},
"spec":{"width":451,"height":340,"layer":[
{"transform":[{"filter":"datum.k=='g'"}],"mark":{"type":"rule","stroke":"#d4d4d4","strokeWidth":1},"encoding":{"x":{"field":"xf","type":"quantitative","scale":{"domain":[0,451],"nice":false},"axis":null},"y":{"field":"yf","type":"quantitative","scale":{"domain":[340,0],"nice":false},"axis":null},"x2":{"field":"XT"},"y2":{"field":"YT"}}},
{"transform":[{"filter":"datum.k=='c'"}],"mark":{"type":"rule","stroke":"#808080","strokeWidth":1},"encoding":{"x":{"field":"xf","type":"quantitative","scale":{"domain":[0,451],"nice":false},"axis":null},"y":{"field":"yf","type":"quantitative","scale":{"domain":[340,0],"nice":false},"axis":null},"x2":{"field":"XT"},"y2":{"field":"YT"}}},
{"transform":[{"filter":"datum.k=='c'"}],"mark":{"type":"line","stroke":"#909090","strokeWidth":1},"encoding":{"x":{"field":"XT","type":"quantitative","scale":{"domain":[0,451],"nice":false},"axis":null},"y":{"field":"YT","type":"quantitative","scale":{"domain":[340,0],"nice":false},"axis":null}}},
{"transform":[{"filter":"isValid(datum.zv)&&!datum.m"}],"mark":{"type":"rule","stroke":"#ececec","strokeWidth":1},"encoding":{"x":{"field":"XL","type":"quantitative","scale":{"domain":[0,451],"nice":false},"axis":null},"y":{"field":"YL","type":"quantitative","scale":{"domain":[340,0],"nice":false},"axis":null},"x2":{"field":"XK"},"y2":{"field":"YK"}}},
{"transform":[{"filter":"isValid(datum.zv)&&!datum.m"}],"mark":{"type":"rule","stroke":"#ececec","strokeWidth":1},"encoding":{"x":{"field":"XK","type":"quantitative","scale":{"domain":[0,451],"nice":false},"axis":null},"y":{"field":"YK","type":"quantitative","scale":{"domain":[340,0],"nice":false},"axis":null},"x2":{"field":"XR"},"y2":{"field":"YR"}}},
{"transform":[{"filter":"isValid(datum.zv)"}],"mark":{"type":"rule","stroke":"#555","strokeWidth":1},"encoding":{"x":{"field":"XL","type":"quantitative","scale":{"domain":[0,451],"nice":false},"axis":null},"y":{"field":"YL","type":"quantitative","scale":{"domain":[340,0],"nice":false},"axis":null},"x2":{"field":"XE"}}},
{"transform":[{"filter":"isValid(datum.zv)&&!datum.m"}],"mark":{"type":"text","align":"right","baseline":"middle","angle":352},"encoding":{"x":{"field":"XLab","type":"quantitative","scale":{"domain":[0,451],"nice":false},"axis":null},"y":{"field":"YLab","type":"quantitative","scale":{"domain":[340,0],"nice":false},"axis":null},"text":{"field":"zlab"}}},
{"transform":[{"filter":"isValid(datum.z)"},
{"window":[{"op":"lead","field":"f","as":"f1"},{"op":"lead","field":"z","as":"zf"}],"sort":[{"field":"f","order":"ascending"}],"groupby":["t"]},
{"window":[{"op":"lead","field":"t","as":"t1"},{"op":"lead","field":"z","as":"zt"},{"op":"lead","field":"zf","as":"ztf"}],"sort":[{"field":"t","order":"ascending"}],"groupby":["f"]},
{"filter":"isValid(datum.f1)&&isValid(datum.t1)"},
{"calculate":"datum.t+'_'+datum.f","as":"cell"},{"calculate":"datum.t*1000+(18-datum.f)*10","as":"ok0"},
{"calculate":"0.75*(datum.z+datum.zf+datum.zt+datum.ztf)/4+0.25*min(datum.z,datum.zf,datum.zt,datum.ztf)","as":"col"},
{"calculate":"[datum.t,datum.t,datum.t1,datum.t1,datum.t]","as":"ta"},{"calculate":"[datum.f,datum.f1,datum.f1,datum.f,datum.f]","as":"fa"},{"calculate":"[0,1,2,3,4]","as":"ia"},
{"flatten":["ta","fa","ia"],"as":["vt","vf","vi"]},
{"calculate":"datum.ok0+datum.vi","as":"ok"},
{"calculate":"(datum.vt-1)/4","as":"u2"},{"calculate":"(datum.vf-8)/10","as":"v2"},
{"calculate":"(1-datum.u2)*(1-datum.v2)*53.3+datum.u2*(1-datum.v2)*211.7+datum.u2*datum.v2*334.3+(1-datum.u2)*datum.v2*186.7","as":"X"},
{"calculate":"(1-datum.u2)*(1-datum.v2)*246+datum.u2*(1-datum.v2)*313.3+datum.u2*datum.v2*236.7+(1-datum.u2)*datum.v2*194","as":"Y"}],
"mark":{"type":"line","strokeWidth":0.8},"encoding":{"x":{"field":"X","type":"quantitative","scale":{"domain":[0,451],"nice":false},"axis":null},"y":{"field":"Y","type":"quantitative","scale":{"domain":[340,0],"nice":false},"axis":null},"detail":{"field":"cell"},"order":{"field":"ok","type":"quantitative"},"fill":{"field":"col","type":"quantitative","legend":null,"scale":{"domain":[-55,-41.2,-27.4,-13.6,0],"range":["#0000ff","#00ffff","#00ff00","#ffff00","#ff0000"],"interpolate":"rgb"}},"stroke":{"field":"col","type":"quantitative","legend":null,"scale":{"domain":[-55,-41.2,-27.4,-13.6,0],"range":["#0000ff","#00ffff","#00ff00","#ffff00","#ff0000"],"interpolate":"rgb"}}}},
{"transform":[{"filter":"isValid(datum.z)"},
{"window":[{"op":"lead","field":"f","as":"f1"},{"op":"lead","field":"z","as":"zf"}],"sort":[{"field":"f","order":"ascending"}],"groupby":["t"]},
{"window":[{"op":"lead","field":"t","as":"t1"},{"op":"lead","field":"z","as":"zt"},{"op":"lead","field":"zf","as":"ztf"}],"sort":[{"field":"t","order":"ascending"}],"groupby":["f"]},
{"filter":"isValid(datum.f1)&&isValid(datum.t1)"},
{"calculate":"datum.t+'_'+datum.f","as":"cell"},{"calculate":"datum.t*1000+(18-datum.f)*10","as":"ok0"},
{"calculate":"0.75*(datum.z+datum.zf+datum.zt+datum.ztf)/4+0.25*min(datum.z,datum.zf,datum.zt,datum.ztf)","as":"col"},
{"calculate":"[datum.t,datum.t,datum.t1,datum.t1,datum.t]","as":"ta"},{"calculate":"[datum.f,datum.f1,datum.f1,datum.f,datum.f]","as":"fa"},{"calculate":"[datum.z,datum.zf,datum.ztf,datum.zt,datum.z]","as":"za"},{"calculate":"[0,1,2,3,4]","as":"ia"},
{"flatten":["ta","fa","za","ia"],"as":["vt","vf","vz","vi"]},
{"calculate":"datum.ok0+datum.vi","as":"ok"},
{"calculate":"(datum.vt-1)/4","as":"u2"},{"calculate":"(datum.vf-8)/10","as":"v2"},
{"calculate":"(1-datum.u2)*(1-datum.v2)*53.3+datum.u2*(1-datum.v2)*211.7+datum.u2*datum.v2*334.3+(1-datum.u2)*datum.v2*186.7","as":"xf2"},
{"calculate":"(1-datum.u2)*(1-datum.v2)*246+datum.u2*(1-datum.v2)*313.3+datum.u2*datum.v2*236.7+(1-datum.u2)*datum.v2*194","as":"yf2"},
{"calculate":"(1-datum.u2)*(1-datum.v2)*203+datum.u2*(1-datum.v2)*240+datum.u2*datum.v2*196+(1-datum.u2)*datum.v2*167","as":"hh2"},
{"calculate":"(1-datum.u2)*(1-datum.v2)*(-11.6)+datum.u2*(1-datum.v2)*3.3+datum.u2*datum.v2*12.4","as":"sx2"},
{"calculate":"1-((datum.p=='D'?-0.4:0)-datum.vz)/(datum.p=='A'?14.4:datum.p=='B'?34.5:datum.p=='C'?55.4:8.85)","as":"q"},
{"calculate":"datum.xf2+datum.q*datum.sx2","as":"X"},{"calculate":"datum.yf2-datum.q*datum.hh2","as":"Y"}],
"mark":{"type":"line","strokeWidth":0.8},"encoding":{"x":{"field":"X","type":"quantitative","scale":{"domain":[0,451],"nice":false},"axis":null},"y":{"field":"Y","type":"quantitative","scale":{"domain":[340,0],"nice":false},"axis":null},"detail":{"field":"cell"},"order":{"field":"ok","type":"quantitative"},"fill":{"field":"col","type":"quantitative","legend":null,"scale":{"domain":[-55,-41.2,-27.4,-13.6,0],"range":["#0000ff","#00ffff","#00ff00","#ffff00","#ff0000"],"interpolate":"rgb"}},"stroke":{"field":"col","type":"quantitative","legend":null,"scale":{"domain":[-55,-41.2,-27.4,-13.6,0],"range":["#0000ff","#00ffff","#00ff00","#ffff00","#ff0000"],"interpolate":"rgb"}}}},
{"transform":[{"filter":"isValid(datum.c)&&datum.fl!==0"}],"mark":{"type":"line","stroke":"#3a3a3a","strokeWidth":1},"encoding":{"x":{"field":"xf","type":"quantitative","scale":{"domain":[0,451],"nice":false},"axis":null},"y":{"field":"yf","type":"quantitative","scale":{"domain":[340,0],"nice":false},"axis":null},"detail":{"field":"c"},"order":{"field":"f","type":"quantitative"}}},
{"transform":[{"filter":"isValid(datum.c)&&datum.sf!==0"}],"mark":{"type":"line","stroke":"#000","strokeWidth":1.8},"encoding":{"x":{"field":"XC","type":"quantitative","scale":{"domain":[0,451],"nice":false},"axis":null},"y":{"field":"YC","type":"quantitative","scale":{"domain":[340,0],"nice":false},"axis":null},"detail":{"field":"c"},"order":{"field":"f","type":"quantitative"}}},
{"transform":[{"filter":"datum.tk===1"}],"mark":{"type":"rule","stroke":"#555","strokeWidth":1},"encoding":{"x":{"field":"tx","type":"quantitative","scale":{"domain":[0,451],"nice":false},"axis":null},"y":{"field":"ty","type":"quantitative","scale":{"domain":[340,0],"nice":false},"axis":null},"x2":{"field":"tx2"},"y2":{"field":"ty2"}}},
{"transform":[{"filter":"datum.tk===1&&datum.tmaj"}],"mark":{"type":"text","fontSize":10,"angle":332,"align":"center","baseline":"middle"},"encoding":{"x":{"field":"tlx","type":"quantitative","scale":{"domain":[0,451],"nice":false},"axis":null},"y":{"field":"tly","type":"quantitative","scale":{"domain":[340,0],"nice":false},"axis":null},"text":{"field":"tlab"}}},
{"transform":[{"filter":"datum.fk===1"}],"mark":{"type":"rule","stroke":"#555","strokeWidth":1},"encoding":{"x":{"field":"fx","type":"quantitative","scale":{"domain":[0,451],"nice":false},"axis":null},"y":{"field":"fy","type":"quantitative","scale":{"domain":[340,0],"nice":false},"axis":null},"x2":{"field":"fx2"},"y2":{"field":"fy2"}}},
{"transform":[{"filter":"datum.fk===1&&datum.fmaj"}],"mark":{"type":"text","fontSize":9,"angle":25,"align":"center","baseline":"middle"},"encoding":{"x":{"field":"flx","type":"quantitative","scale":{"domain":[0,451],"nice":false},"axis":null},"y":{"field":"fly","type":"quantitative","scale":{"domain":[340,0],"nice":false},"axis":null},"text":{"field":"flab"}}},
{"transform":[{"filter":"datum.tl=='T'"}],"mark":{"type":"text","fontSize":11,"angle":26,"align":"center","baseline":"middle"},"encoding":{"x":{"field":"xf","type":"quantitative","scale":{"domain":[0,451],"nice":false},"axis":null},"y":{"field":"yf","type":"quantitative","scale":{"domain":[340,0],"nice":false},"axis":null},"text":{"field":"lab"}}},
{"transform":[{"filter":"datum.tl=='F'"}],"mark":{"type":"text","fontSize":9.5,"angle":327,"align":"center","baseline":"middle"},"encoding":{"x":{"field":"xf","type":"quantitative","scale":{"domain":[0,451],"nice":false},"axis":null},"y":{"field":"yf","type":"quantitative","scale":{"domain":[340,0],"nice":false},"axis":null},"text":{"field":"lab"}}},
{"transform":[{"filter":"isValid(datum.v0)"}],"mark":{"type":"rect","strokeWidth":0.6},"encoding":{"x":{"field":"BX0","type":"quantitative","scale":{"domain":[0,451],"nice":false},"axis":null},"x2":{"field":"BX1"},"y":{"field":"BY0","type":"quantitative","scale":{"domain":[340,0],"nice":false},"axis":null},"y2":{"field":"BY1"},"fill":{"field":"v0","type":"quantitative","legend":null,"scale":{"domain":[-55,-41.2,-27.4,-13.6,0],"range":["#0000ff","#00ffff","#00ff00","#ffff00","#ff0000"],"interpolate":"rgb"}},"stroke":{"field":"v0","type":"quantitative","legend":null,"scale":{"domain":[-55,-41.2,-27.4,-13.6,0],"range":["#0000ff","#00ffff","#00ff00","#ffff00","#ff0000"],"interpolate":"rgb"}}}},
{"transform":[{"filter":"datum.bl===1"}],"mark":{"type":"text","align":"left","baseline":"middle"},"encoding":{"x":{"field":"BXL","type":"quantitative","scale":{"domain":[0,451],"nice":false},"axis":null},"y":{"field":"BYL","type":"quantitative","scale":{"domain":[340,0],"nice":false},"axis":null},"text":{"field":"lab"}}},
{"transform":[{"filter":"isValid(datum.b)"}],"mark":{"type":"rule","stroke":"#000","strokeWidth":1.2},"encoding":{"x":{"field":"BX0","type":"quantitative","scale":{"domain":[0,451],"nice":false},"axis":null},"x2":{"field":"BX1"},"y":{"field":"BYB","type":"quantitative","scale":{"domain":[340,0],"nice":false},"axis":null}}},
{"transform":[{"filter":"isValid(datum.zero)"}],"mark":{"type":"text","align":"left","baseline":"middle"},"encoding":{"x":{"field":"BXL","type":"quantitative","scale":{"domain":[0,451],"nice":false},"axis":null},"y":{"field":"BYZ","type":"quantitative","scale":{"domain":[340,0],"nice":false},"axis":null},"text":{"field":"zero"}}},
{"transform":[{"filter":"datum.letter===1"}],"mark":{"type":"text","align":"left","baseline":"middle","fontSize":19},"encoding":{"x":{"field":"LX","type":"quantitative","scale":{"domain":[0,451],"nice":false},"axis":null},"y":{"field":"LY","type":"quantitative","scale":{"domain":[340,0],"nice":false},"axis":null},"text":{"field":"p"}}},
{"transform":[{"filter":"datum.letter===1"}],"mark":{"type":"text","align":"center","baseline":"middle","fontSize":12,"angle":270},"encoding":{"x":{"field":"RX","type":"quantitative","scale":{"domain":[0,451],"nice":false},"axis":null},"y":{"field":"RY","type":"quantitative","scale":{"domain":[340,0],"nice":false},"axis":null},"text":{"field":"rlab"}}}
]}}
